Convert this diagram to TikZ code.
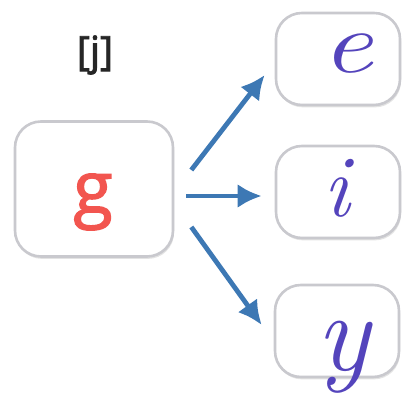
\documentclass[tikz,border=0pt]{standalone}
\usepackage{fontspec}
\usepackage{xcolor}
\newfontfamily\signfont{Open Sans}[FakeBold=2]
\usetikzlibrary{arrows.meta,shadows,positioning}
\definecolor{letterred}{HTML}{F2554F}
\definecolor{arrowblue}{HTML}{3D78B4}
\definecolor{inkblue}{HTML}{5444BC}
\definecolor{cardgray}{HTML}{C9C9CE}

\begin{document}
\begin{tikzpicture}[x=0.5pt,y=0.5pt,
    card/.style={draw=cardgray, line width=1.3pt, fill=white, rounded corners=13pt,
      drop shadow={shadow xshift=0.5pt, shadow yshift=-1.2pt, opacity=0.22}},
    ink/.style={text=inkblue, font=\itshape\fontsize{44}{44}\selectfont},
    arr/.style={-{Latex[length=12pt,width=12pt]}, line width=2.4pt, draw=arrowblue}]
    \useasboundingbox (0,0) rectangle (404,411);
    % source card
    \node[card, minimum width=79pt, minimum height=67.5pt] (g) at (94,222) {};
    \node[text=letterred, font=\signfont\fontsize{36}{36}\selectfont] (glet) at (93,209) {g};
    \node[text=black!85, font=\signfont\fontsize{20}{20}\selectfont] (sound) at (95,356) {[j]};
    % target cards
    \foreach \nm/\px/\py in {e/338/352, i/338/219, y/337/80} {
        \node[card, minimum width=62pt, minimum height=46pt] (\nm) at (\px,\py) {};
    }
    \node[ink, xscale=1.3] (elet) at (347,357) {e};
    \node[ink] (ilet) at (337,223) {i};
    \node[ink, font=\itshape\fontsize{56}{56}\selectfont] (ylet) at (343,54) {y};
    % arrows
    \draw[arr] ([shift={(8.5pt,9.5pt)}]g.east) -- ([shift={(-5pt,-8pt)}]e.west);
    \draw[arr] ([shift={(6pt,-3.5pt)}]g.east) -- ([shift={(-6.5pt,-2pt)}]i.west);
    \draw[arr] ([shift={(8.5pt,-19pt)}]g.east) -- ([shift={(-6pt,3pt)}]y.west);
\end{tikzpicture}
\end{document}
